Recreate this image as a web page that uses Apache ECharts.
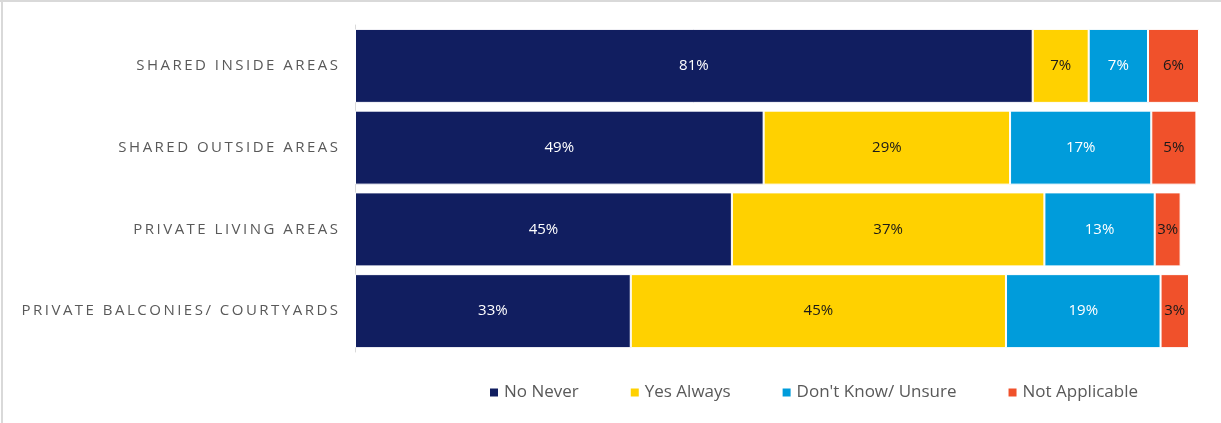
<!DOCTYPE html>
<html>
<head>
<meta charset="utf-8">
<script src="https://cdn.jsdelivr.net/npm/echarts@6/dist/echarts.min.js"></script>
<style>
  html, body { margin: 0; padding: 0; background: #fff; }
  #chart { width: 1221px; height: 423px; }
</style>
</head>
<body>
<div id="chart"></div>
<script>
// areas, top to bottom
var categories = ['SHARED INSIDE AREAS', 'SHARED OUTSIDE AREAS', 'PRIVATE LIVING AREAS', 'PRIVATE BALCONIES/ COURTYARDS']
var seriesNames = ['No Never', 'Yes Always', "Don't Know/ Unsure", 'Not Applicable']
// values in %
var noNever = [81.1, 48.9, 45.1, 33.0]
var yesAlways = [6.7, 29.49, 37.4, 44.9]
var dontKnow = [7.1, 16.9, 13.2, 18.5]
var notApplicable = [6.1, 5.4, 3.1, 3.4]

var colors = ['#111e60', '#ffd100', '#009cdb', '#f0512b']
var labelColors = ['#ffffff', '#1a1a1a', '#ffffff', '#1a1a1a']
var values = [noNever, yesAlways, dontKnow, notApplicable]

var series = seriesNames.map(function (name, i) {
  return {
    name: name,
    type: 'bar',
    stack: 'total',
    barWidth: 74,
    data: values[i],
    itemStyle: { color: colors[i], borderColor: '#ffffff', borderWidth: 1 },
    label: {
      show: true,
      position: 'inside',
      color: labelColors[i],
      fontFamily: 'Open Sans',
      fontSize: 15,
      formatter: function (p) { return Math.round(p.value) + '%' }
    }
  }
})

var chart = echarts.init(document.getElementById('chart'))
chart.setOption({
  animation: false,
  color: colors,
  grid: { left: 355, right: 22, top: 25, bottom: 71 },
  xAxis: { type: 'value', min: 0, max: 101, show: false },
  yAxis: {
    type: 'category',
    inverse: true,
    data: categories,
    axisLine: { lineStyle: { color: '#d9d9d9' } },
    axisTick: { length: 5, lineStyle: { color: '#d9d9d9' } },
    axisLabel: {
      margin: 17,
      color: '#595959',
      fontFamily: 'Open Sans',
      fontSize: 15,
      // spread the letters like the original
      formatter: function (v) { return v.split('').join('\u2009') }
    }
  },
  legend: {
    left: 483,
    top: 379,
    icon: 'rect',
    itemWidth: 10,
    itemHeight: 10,
    itemGap: 50,
    textStyle: { color: '#595959', fontFamily: 'Open Sans', fontSize: 17 }
  },
  graphic: [
    { type: 'line', shape: { x1: 0, y1: 1, x2: 1221, y2: 1 }, style: { stroke: '#d9d9d9', lineWidth: 2 } },
    { type: 'line', shape: { x1: 2, y1: 0, x2: 2, y2: 423 }, style: { stroke: '#d9d9d9', lineWidth: 2 } }
  ],
  series: series
})
</script>
</body>
</html>
